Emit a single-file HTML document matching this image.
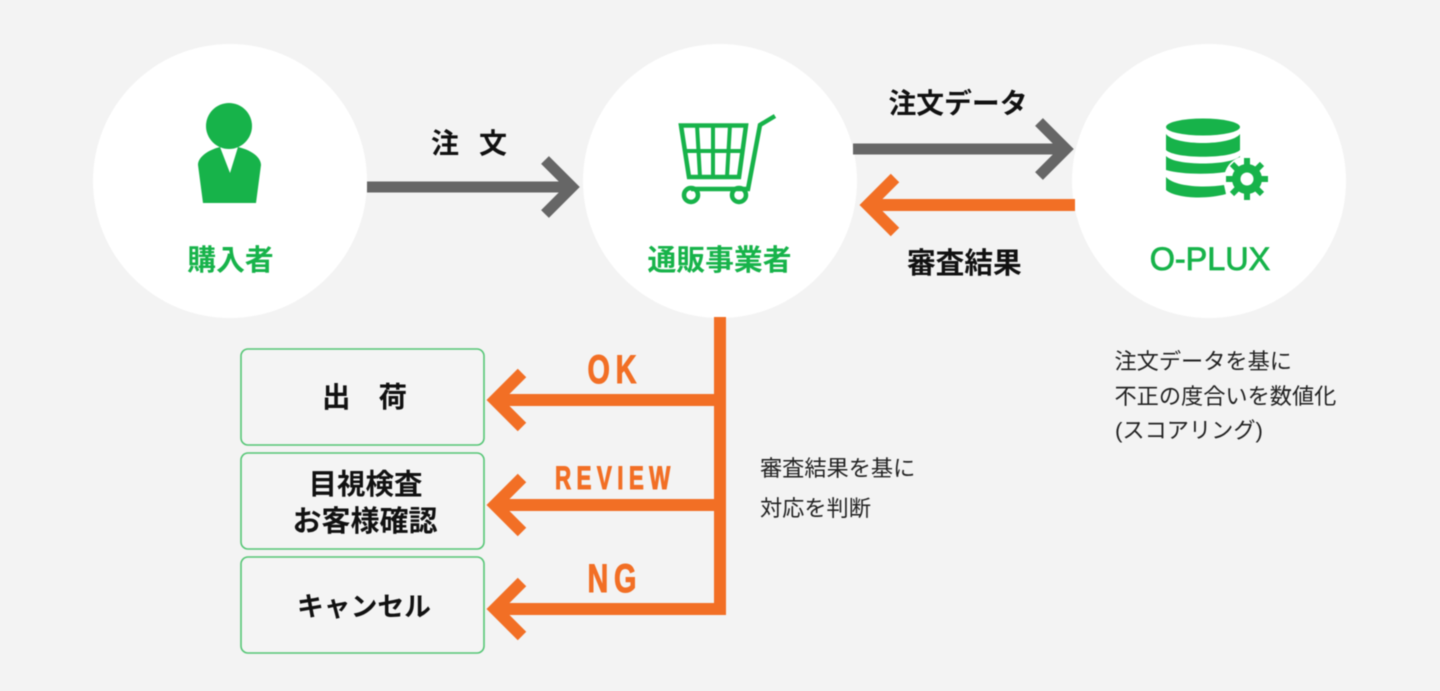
<!DOCTYPE html>
<html lang="ja">
<head>
<meta charset="utf-8">
<style>
html,body{margin:0;padding:0;width:1440px;height:691px;overflow:hidden;background:#f3f3f3}
svg{display:block;filter:blur(.4px)}
text{font-family:"Liberation Sans","Noto Sans CJK JP",sans-serif}
.b{font-weight:700;fill:#111}
.g{font-weight:700;fill:#17b34a;font-size:28.8px;text-anchor:middle}
.r{font-weight:400;fill:#222;font-size:22.2px}
.o{font-weight:700;fill:#f26f25;stroke:#f26f25;stroke-width:1;font-family:"Liberation Sans",sans-serif}
</style>
</head>
<body>
<svg width="1440" height="691" viewBox="0 0 1440 691" xmlns="http://www.w3.org/2000/svg">
<rect width="1440" height="691" fill="#f3f3f3"/>
<circle cx="230" cy="181" r="137" fill="#fff"/>
<circle cx="720" cy="181" r="137" fill="#fff"/>
<circle cx="1209" cy="181" r="137" fill="#fff"/>

<!-- person -->
<path d="M220 147 C208 150 198 157 198 165 L203 203 L256 203 L261 165 C261 157 251 150 238 147 L230 173 Z" fill="#17b34a"/>
<circle cx="229" cy="126" r="23" fill="#17b34a"/>

<!-- cart -->
<g fill="none" stroke="#17b34a" stroke-width="4">
<path d="M681 125.500 H746 L739 177 H689 Z" stroke-width="4.500"/>
<path d="M684 151 H743 M697 125 L700 177 M713 125 V177 M730 125 L727 177"/>
<path d="M775 116 L760 125 L748 189 H691" stroke-width="4.500"/>
<circle cx="691" cy="195" r="7" stroke-width="4.500"/>
<circle cx="739" cy="195" r="7" stroke-width="4.500"/>
</g>

<!-- database -->
<g fill="#17b34a">
<ellipse cx="1203" cy="127" rx="37" ry="8.500"/>
<path d="M1166 134 C1175 146 1231 146 1240 134 V150 C1231 159 1175 159 1166 150 Z"/>
<path d="M1166 156 C1175 166 1231 166 1240 156 V160 L1228 168 L1226 172 C1205 175 1180 174 1166 170 Z"/>
<path d="M1166 177 C1175 187 1205 188 1224 185 L1226 194 C1205 200 1175 198 1166 190 Z"/>
</g>
<g>
<circle cx="1247" cy="179" r="23" fill="#fff"/>
<g stroke="#17b34a" stroke-width="6" fill="none">
<path d="M1247 158 V200 M1226 179 H1268 M1232 164 L1262 194 M1262 164 L1232 194"/>
</g>
<circle cx="1247" cy="179" r="15" fill="#17b34a"/>
<circle cx="1247" cy="179" r="6.500" fill="#fff"/>
</g>

<!-- labels in circles -->
<text x="230.500" y="270" class="g">購入者</text>
<text x="719.500" y="270" class="g">通販事業者</text>
<text x="1210" y="270" class="g" style="font-size:32.400px;font-weight:400;stroke:#17b34a;stroke-width:.8">O-PLUX</text>

<!-- gray arrows -->
<g fill="none" stroke="#666" stroke-width="11">
<path d="M367 187 H574"/>
<path d="M545 160 L572 187 L545 214"/>
<path d="M853 149 H1068"/>
<path d="M1039 122 L1066 149 L1039 176"/>
</g>
<!-- orange arrows -->
<g fill="none" stroke="#f26f25" stroke-width="12">
<path d="M1075 205 H866"/>
<path d="M895 178 L868 205 L895 232"/>
<path d="M720 317 V609"/>
<path d="M726 400 H493"/>
<path d="M522 373 L495 400 L522 427"/>
<path d="M726 505 H493"/>
<path d="M522 478 L495 505 L522 532"/>
<path d="M726 609 H493"/>
<path d="M522 582 L495 609 L522 636"/>
</g>

<!-- edge labels -->
<text x="431" y="153" class="b" style="font-size:28px">注</text>
<text x="479" y="153" class="b" style="font-size:28px">文</text>
<text x="888.500" y="113" class="b" style="font-size:27.800px">注文データ</text>
<text x="907" y="273" class="b" style="font-size:28.700px">審査結果</text>

<text transform="translate(587.500,383) scale(.72,1)" class="o" style="font-size:40px;letter-spacing:8px">OK</text>
<text transform="translate(555,489) scale(.7,1)" class="o" style="font-size:32px;letter-spacing:7.700px">REVIEW</text>
<text transform="translate(587.500,592) scale(.72,1)" class="o" style="font-size:40px;letter-spacing:8px">NG</text>

<!-- boxes -->
<g fill="#f4f4f4" stroke="#55c675" stroke-width="1.600">
<rect x="241" y="349" width="243" height="96" rx="7"/>
<rect x="241" y="453" width="243" height="96" rx="7"/>
<rect x="241" y="557" width="243" height="96" rx="7"/>
</g>
<text x="322" y="407" class="b" style="font-size:28.500px">出</text>
<text x="378.500" y="407" class="b" style="font-size:28.500px">荷</text>
<text x="365.500" y="494" class="b" style="font-size:28.500px;text-anchor:middle">目視検査</text>
<text x="365" y="531" class="b" style="font-size:29px;text-anchor:middle">お客様確認</text>
<text x="364" y="616" class="b" style="font-size:26.800px;text-anchor:middle">キャンセル</text>

<!-- notes -->
<text x="760" y="476" class="r">審査結果を基に</text>
<text x="760" y="516" class="r">対応を判断</text>
<text x="1114.500" y="369" class="r">注文データを基に</text>
<text x="1114.500" y="404" class="r">不正の度合いを数値化</text>
<text x="1115" y="438" class="r">(スコアリング)</text>
</svg>
</body>
</html>
